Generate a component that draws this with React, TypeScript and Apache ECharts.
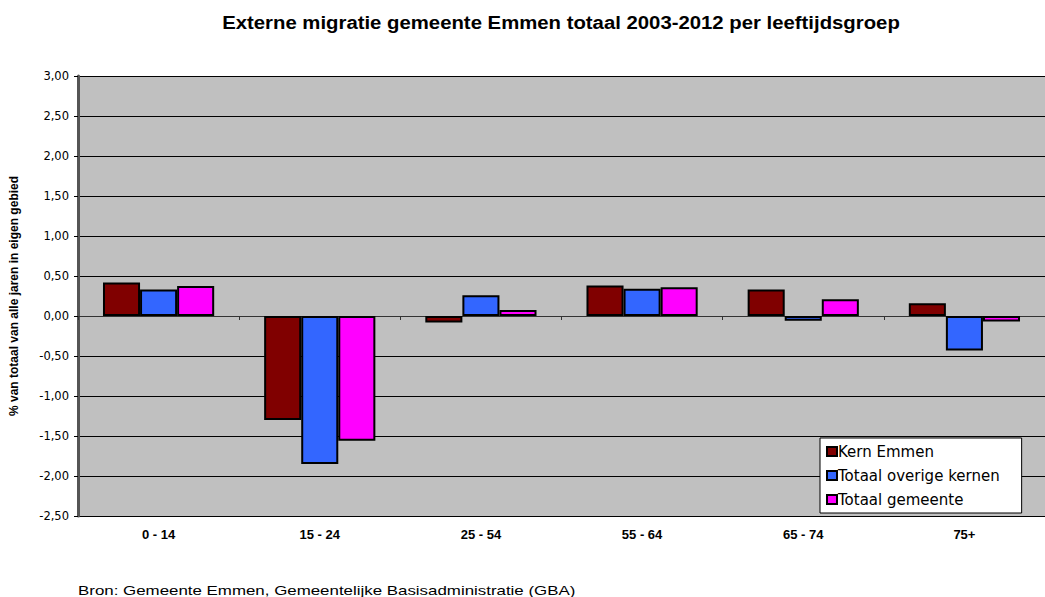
import React, { useEffect, useRef } from "react";
import * as echarts from "echarts";

const categories = ["0 - 14", "15 - 24", "25 - 54", "55 - 64", "65 - 74", "75+"];
const kernEmmen = [0.42, -1.3, -0.08, 0.38, 0.33, 0.16];
const overigeKernen = [0.33, -1.85, 0.26, 0.34, -0.06, -0.43];
const totaalGemeente = [0.375, -1.56, 0.075, 0.36, 0.21, -0.07];
const seriesNames = ["Kern Emmen", "Totaal overige kernen", "Totaal gemeente"];
const colors = ["#800000", "#3366FF", "#FF00FF"];
const titleText = "Externe migratie gemeente Emmen totaal 2003-2012 per leeftijdsgroep";
const sourceText = "Bron: Gemeente Emmen, Gemeentelijke Basisadministratie (GBA)";

export default function App() {
  const ref = useRef<HTMLDivElement>(null);
  useEffect(() => {
    if (!ref.current) return;
    const chart = echarts.init(ref.current, undefined, { renderer: "svg" });
    const font = "Liberation Sans, Arial, sans-serif";
    const wide = "DejaVu Sans, Liberation Sans, sans-serif";
    const data = [kernEmmen, overigeKernen, totaalGemeente];
    chart.setOption({
      animation: false,
      backgroundColor: "#ffffff",
      textStyle: { fontFamily: font },
      graphic: [
        {
          type: "group",
          x: 561,
          y: 23,
          scaleX: 1.13,
          children: [
            {
              type: "text",
              style: {
                text: titleText,
                font: `bold 18px ${font}`,
                fill: "#000",
                textAlign: "center",
                textVerticalAlign: "middle",
              },
            },
          ],
        },
        {
          type: "group",
          x: 78,
          y: 590,
          scaleX: 1.3,
          children: [
            {
              type: "text",
              style: {
                text: sourceText,
                font: `13px ${font}`,
                fill: "#000",
                textAlign: "left",
                textVerticalAlign: "middle",
              },
            },
          ],
        },
      ],
      legend: {
        orient: "vertical",
        left: 820,
        top: 438,
        padding: [5.5, 22, 5.5, 6],
        itemGap: 8,
        itemWidth: 10,
        itemHeight: 9,
        backgroundColor: "#ffffff",
        borderColor: "#000",
        borderWidth: 1,
        icon: "rect",
        textStyle: { fontFamily: wide, fontSize: 15, lineHeight: 16, color: "#000", padding: [0, 0, 0, -4] },
        itemStyle: { borderColor: "#000", borderWidth: 2 },
        data: seriesNames,
      },
      grid: {
        left: 78,
        right: 0,
        top: 76,
        bottom: 81,
        show: true,
        backgroundColor: "#C0C0C0",
        borderWidth: 0,
      },
      xAxis: [
        {
          type: "category",
          data: categories,
          position: "bottom",
          axisLine: { show: false, onZero: false },
          axisTick: { show: false },
          axisLabel: {
            fontFamily: font,
            fontSize: 13,
            fontWeight: "bold",
            color: "#000",
            margin: 12,
          },
        },
        {
          type: "category",
          data: categories,
          position: "top",
          axisLine: { show: true, onZero: true, lineStyle: { color: "#333", width: 1 } },
          axisTick: { show: true, inside: true, length: 4, lineStyle: { color: "#333" } },
          axisLabel: { show: false },
        },
      ],
      yAxis: {
        type: "value",
        min: -2.5,
        max: 3,
        interval: 0.5,
        name: "% van totaal van alle jaren in eigen gebied",
        nameLocation: "middle",
        nameGap: 58,
        nameRotate: 90,
        nameTextStyle: { fontFamily: font, fontSize: 12, fontWeight: "bold", color: "#000" },
        axisLine: { show: true, lineStyle: { color: "#555", width: 3 } },
        axisTick: { show: true, length: 4, lineStyle: { color: "#000" } },
        axisLabel: {
          fontFamily: wide,
          fontSize: 11.5,
          color: "#000",
          margin: 9,
          formatter: (v: number) => v.toFixed(2).replace(".", ","),
        },
        splitLine: { show: true, lineStyle: { color: "#000", width: 1 } },
      },
      series: data.map((d, i) => ({
        name: seriesNames[i],
        type: "bar",
        xAxisIndex: 0,
        data: d,
        barGap: "0%",
        barCategoryGap: "31%",
        itemStyle: { color: colors[i], borderColor: "#000", borderWidth: 2 },
      })),
    });
    return () => chart.dispose();
  }, []);
  return <div ref={ref} style={{ width: 1045, height: 597, position: "absolute", left: 0, top: 0 }} />;
}
